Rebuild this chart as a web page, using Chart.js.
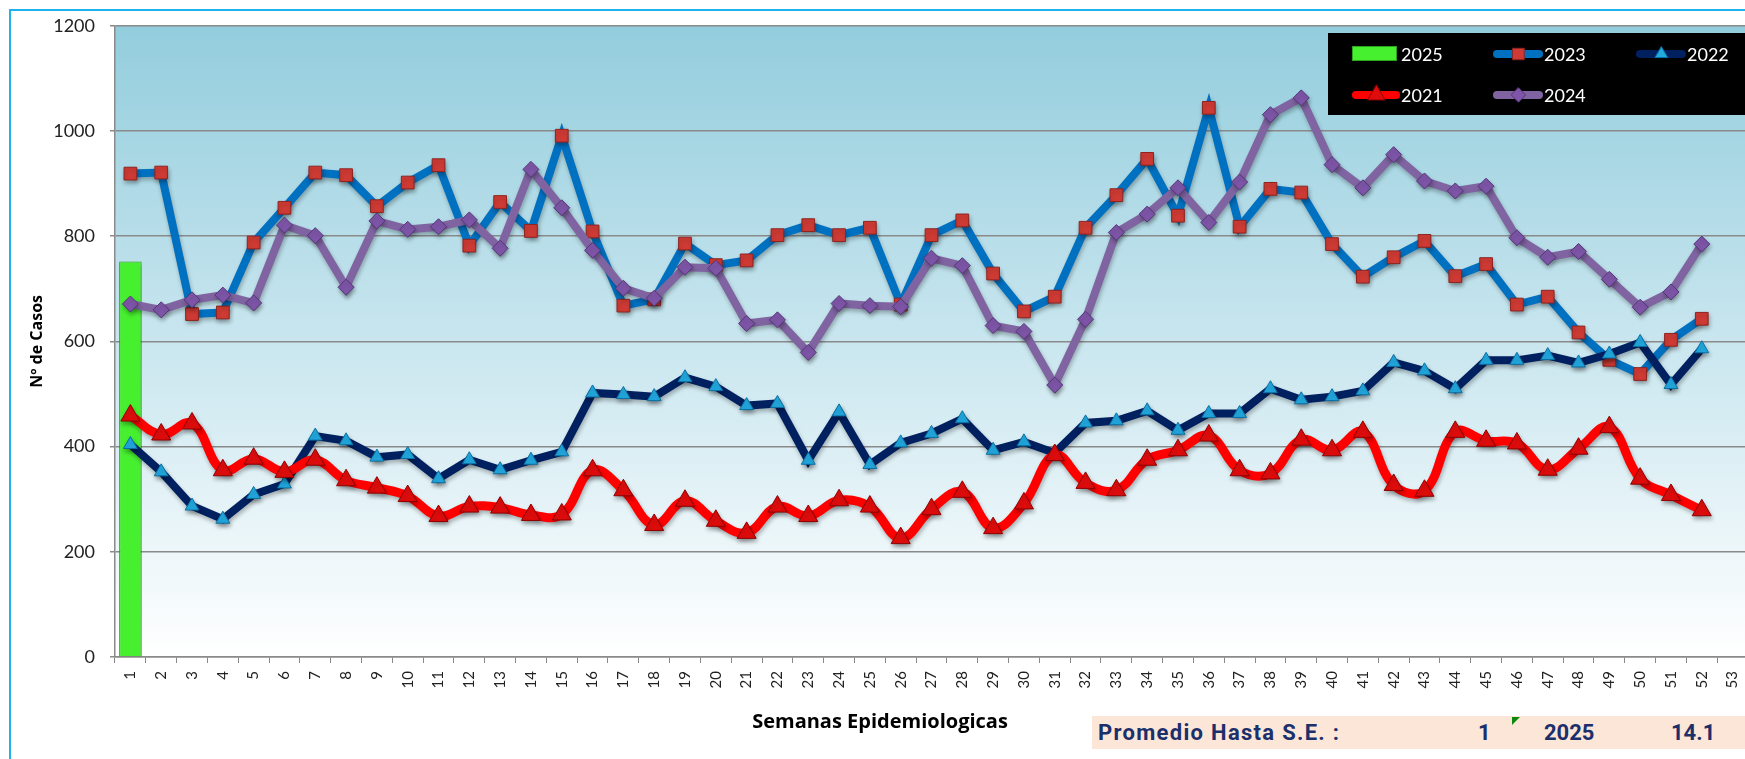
<!DOCTYPE html>
<html><head><meta charset="utf-8">
<script src="https://cdn.jsdelivr.net/npm/chart.js@4.4.1/dist/chart.umd.min.js"></script>
<style>
html,body{margin:0;padding:0;overflow:hidden;background:#fff;width:1745px;height:759px}
#wrap{position:relative;width:1760px;height:759px}
#c{position:absolute;left:0;top:0}
#prom{position:absolute;left:1092px;top:716px;width:700px;height:33px;background:#fce6d8;color:#1b2f6b;font-family:Roboto,"DejaVu Sans",sans-serif;font-weight:bold;font-size:22px;line-height:33px}
#prom span{position:absolute;top:0;white-space:nowrap}
#prom i{position:absolute;left:420px;top:1px;width:0;height:0;border-top:8px solid #0a8a0a;border-right:8px solid transparent}
</style></head>
<body><div id="wrap"><canvas id="c" width="1760" height="759"></canvas>
<div id="prom"><span id="pt" style="left:6px;letter-spacing:1.3px">Promedio Hasta S.E. :</span><span style="left:386px">1</span><i></i><span style="left:452px">2025</span><span style="left:579px">14.1</span></div></div>
<script>
const weeks = ['1','2','3','4','5','6','7','8','9','10','11','12','13','14','15','16','17','18','19','20','21','22','23','24','25','26','27','28','29','30','31','32','33','34','35','36','37','38','39','40','41','42','43','44','45','46','47','48','49','50','51','52','53'];
const cases2025 = [752];
const cases2023 = [919,921,652,655,788,854,921,916,857,902,935,782,865,810,991,809,668,680,786,745,754,802,821,802,816,670,802,830,729,657,685,816,878,947,839,1044,818,890,883,785,723,760,791,724,747,670,685,617,565,538,603,643];
const cases2022 = [404,352,287,262,309,329,420,411,380,385,339,375,356,374,390,502,499,495,531,514,478,482,374,466,366,407,425,453,393,409,388,445,449,468,431,463,463,510,489,495,506,560,544,510,564,564,573,559,576,598,518,586];
const cases2021 = [459,423,444,355,377,352,375,336,322,306,268,286,284,270,271,355,317,251,297,259,236,286,268,298,286,226,281,314,245,292,384,331,317,375,393,421,355,349,413,393,428,327,316,428,411,406,356,396,437,339,308,279];
const cases2024 = [671,660,679,688,673,821,801,703,829,813,818,831,777,927,854,773,701,682,741,739,634,641,579,672,668,666,758,744,630,619,517,642,807,842,892,826,903,1031,1063,936,892,955,905,886,895,797,760,771,718,665,694,785];
const yTicks = [0,200,400,600,800,1000,1200];

function marker(ctx, style, r, x, y, fill, stroke){
  ctx.save();
  ctx.fillStyle = fill; ctx.strokeStyle = stroke; ctx.lineWidth = 1;
  ctx.beginPath();
  if(style==='rect'){ const s=r*Math.SQRT1_2; ctx.rect(x-s,y-s,2*s,2*s); }
  else if(style==='rectRot'){ ctx.moveTo(x,y-r); ctx.lineTo(x+r,y); ctx.lineTo(x,y+r); ctx.lineTo(x-r,y); ctx.closePath(); }
  else if(style==='triangle'){ ctx.moveTo(x,y-r); ctx.lineTo(x+r*Math.sin(Math.PI/3),y+r*0.5); ctx.lineTo(x-r*Math.sin(Math.PI/3),y+r*0.5); ctx.closePath(); }
  ctx.fill(); ctx.stroke();
  ctx.restore();
}

const bgPlugin = {
  id:'bg',
  beforeDraw(chart){
    const {ctx, chartArea:a} = chart;
    ctx.save();
    ctx.fillStyle='#fff'; ctx.fillRect(0,0,chart.width,chart.height);
    const g = ctx.createLinearGradient(0,a.top,0,a.bottom);
    g.addColorStop(0,'#93cddd'); g.addColorStop(0.5,'#c9e6ef'); g.addColorStop(1,'#ffffff');
    ctx.fillStyle=g; ctx.fillRect(a.left,a.top,a.right-a.left,a.bottom-a.top);
    ctx.strokeStyle='#1fb2ec'; ctx.lineWidth=2;
    ctx.strokeRect(10,10,chart.width+40,chart.height+40);
    ctx.restore();
  }
};
const shadowPlugin = {
  id:'shadow',
  beforeDatasetDraw(chart){ const ctx=chart.ctx; ctx.save(); ctx.shadowColor='rgba(0,0,0,0.28)'; ctx.shadowBlur=4; ctx.shadowOffsetX=1; ctx.shadowOffsetY=3; },
  afterDatasetDraw(chart){ chart.ctx.restore(); }
};
const textPlugin = {
  id:'texts',
  afterDraw(chart){
    const ctx=chart.ctx;
    ctx.save();
    ctx.fillStyle='#000'; ctx.font='bold 20px "Open Sans"'; ctx.textAlign='center'; ctx.textBaseline='middle';
    ctx.fillText('Semanas Epidemiologicas', 880, 722);
    ctx.fillStyle='#000'; ctx.fillRect(1328,33,chart.width-1328,82);
    const pos=[[1352,54,1401],[1493,54,1544],[1636,54,1687],[1352,95,1401],[1493,95,1544]];
    chart.data.datasets.forEach((d,i)=>{
      const [x,y,tx]=pos[i];
      if(d.type==='bar'){
        ctx.fillStyle=d.backgroundColor; ctx.fillRect(x,y-8,tx-x-4,15);
        ctx.strokeStyle=d.borderColor; ctx.lineWidth=1; ctx.strokeRect(x+0.5,y-7.5,tx-x-5,14);
      } else {
        ctx.strokeStyle=d.borderColor; ctx.lineWidth=8; ctx.lineCap='round';
        ctx.beginPath(); ctx.moveTo(x+4,y); ctx.lineTo(tx-5,y); ctx.stroke();
        marker(ctx,d.pointStyle,d.pointRadius*0.9,(x+tx)/2,y,d.pointBackgroundColor,d.pointBorderColor);
      }
      ctx.fillStyle='#fff'; ctx.font='18px Lato'; ctx.textAlign='left'; ctx.textBaseline='middle';
      ctx.fillText(d.label,tx,y+1);
    });
    ctx.restore();
  }
};

new Chart(document.getElementById('c'), {
  type:'bar',
  data:{
    labels:weeks,
    datasets:[
      {type:'bar',label:'2025',data:cases2025,backgroundColor:'#47f02f',borderColor:'#2aa51c',borderWidth:1,categoryPercentage:1,barPercentage:0.73,order:5},
      {type:'line',label:'2023',data:cases2023,borderColor:'#0070c0',borderWidth:8,tension:0,pointStyle:'rect',pointRadius:9,pointBackgroundColor:'#cf3b34',pointBorderColor:'#8e2420',pointBorderWidth:1,order:4},
      {type:'line',label:'2022',data:cases2022,borderColor:'#002060',borderWidth:8,tension:0,pointStyle:'triangle',pointRadius:8,pointBackgroundColor:'#22a9e0',pointBorderColor:'#0b6fa3',pointBorderWidth:1,order:3},
      {type:'line',label:'2021',data:cases2021,borderColor:'#ff0000',borderWidth:9,tension:0.4,pointStyle:'triangle',pointRadius:11,pointBackgroundColor:'#e00c0c',pointBorderColor:'#8f0000',pointBorderWidth:1,order:2},
      {type:'line',label:'2024',data:cases2024,borderColor:'#8064a2',borderWidth:8,tension:0,pointStyle:'rectRot',pointRadius:8,pointBackgroundColor:'#7e55a8',pointBorderColor:'#553679',pointBorderWidth:1,order:1}
    ]
  },
  options:{
    responsive:false, animation:false, events:[],
    layout:{padding:{top:24,left:0,right:8,bottom:0}},
    plugins:{legend:{display:false},tooltip:{enabled:false}},
    scales:{
      x:{
        offset:true,
        grid:{offset:true,drawOnChartArea:false,drawTicks:true,tickLength:6,color:'#888',lineWidth:1},
        border:{color:'#8a8a8a',width:1.5},
        ticks:{maxRotation:90,minRotation:90,autoSkip:false,padding:8,color:'#222',font:{family:'Lato',size:15}},
        afterFit(s){ s.height=102; }
      },
      y:{
        min:0,max:1200,
        afterBuildTicks(s){ s.ticks = yTicks.map(v=>({value:v})); },
        ticks:{padding:15,color:'#222',font:{family:'Lato',size:18},callback:(v)=>String(v)},
        grid:{color:'#8a8a8a',lineWidth:1.5,tickLength:5,drawTicks:true},
        border:{color:'#8a8a8a',width:1.5},
        title:{display:true,text:'Nº de Casos',color:'#000',font:{family:'Open Sans',size:16,weight:'bold'},padding:{top:28,bottom:0}},
        afterFit(s){ s.width=115; }
      }
    }
  },
  plugins:[bgPlugin,shadowPlugin,textPlugin]
});
</script>
</body></html>
